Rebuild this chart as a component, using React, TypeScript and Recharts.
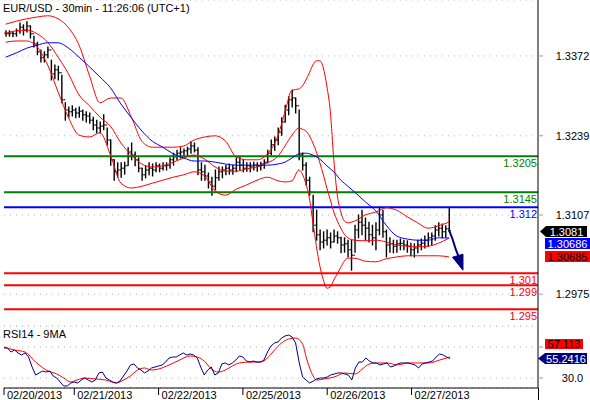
import React from 'react';
import { ComposedChart, Bar, Line, XAxis, YAxis, CartesianGrid, ReferenceLine } from 'recharts';

const FONT = '"Liberation Sans", Arial, sans-serif';
const SLOTS = 153;

const OPEN_FIRST = 1.3410;
const HIGH = [
  1.3414,1.3414,1.3412,1.3417,1.3427,1.3424,1.3429,1.3422,1.3405,1.3395,
  1.3382,1.3379,1.3387,1.3365,1.3357,1.3355,1.3340,1.3294,1.3287,1.3289,
  1.3285,1.3287,1.3282,1.3279,1.3277,1.3270,1.3265,1.3262,1.3274,1.3252,
  1.3232,1.3199,1.3194,1.3194,1.3195,1.3219,1.3227,1.3212,1.3202,1.3185,
  1.3189,1.3194,1.3192,1.3194,1.3192,1.3194,1.3194,1.3202,1.3210,1.3215,
  1.3219,1.3217,1.3220,1.3229,1.3227,1.3219,1.3194,1.3190,1.3177,1.3170,
  1.3182,1.3187,1.3187,1.3190,1.3192,1.3190,1.3202,1.3204,1.3199,1.3194,
  1.3194,1.3195,1.3194,1.3195,1.3199,1.3215,1.3232,1.3237,1.3252,1.3269,
  1.3290,1.3304,1.3315,1.3302,1.3282,1.3210,1.3194,1.3170,1.3140,1.3115,
  1.3082,1.3079,1.3082,1.3077,1.3082,1.3079,1.3070,1.3069,1.3065,1.3065,
  1.3090,1.3107,1.3115,1.3102,1.3095,1.3090,1.3094,1.3120,1.3115,1.3082,
  1.3069,1.3065,1.3065,1.3067,1.3065,1.3064,1.3060,1.3059,1.3065,1.3067,
  1.3072,1.3077,1.3077,1.3089,1.3094,1.3092,1.3089,1.3120,
];
const LOW = [
  1.3405,1.3405,1.3404,1.3405,1.3410,1.3407,1.3412,1.3402,1.3387,1.3374,
  1.3362,1.3362,1.3369,1.3332,1.3334,1.3332,1.3294,1.3265,1.3270,1.3272,
  1.3269,1.3270,1.3265,1.3262,1.3260,1.3249,1.3244,1.3244,1.3249,1.3224,
  1.3190,1.3165,1.3170,1.3170,1.3175,1.3190,1.3199,1.3189,1.3179,1.3165,
  1.3169,1.3174,1.3172,1.3179,1.3179,1.3182,1.3182,1.3185,1.3190,1.3199,
  1.3202,1.3204,1.3205,1.3210,1.3212,1.3174,1.3165,1.3165,1.3152,1.3140,
  1.3149,1.3165,1.3169,1.3174,1.3175,1.3175,1.3179,1.3182,1.3179,1.3180,
  1.3179,1.3182,1.3180,1.3182,1.3185,1.3194,1.3207,1.3215,1.3224,1.3240,
  1.3262,1.3274,1.3287,1.3277,1.3199,1.3182,1.3157,1.3140,1.3079,1.3065,
  1.3049,1.3052,1.3057,1.3052,1.3062,1.3060,1.3044,1.3045,1.3037,1.3015,
  1.3045,1.3069,1.3074,1.3065,1.3062,1.3057,1.3049,1.3074,1.3070,1.3037,
  1.3045,1.3044,1.3045,1.3049,1.3049,1.3045,1.3039,1.3037,1.3044,1.3049,
  1.3052,1.3055,1.3057,1.3065,1.3072,1.3069,1.3070,1.3080,
];
const CLOSE = [
  1.3409,1.3410,1.3409,1.3414,1.3420,1.3415,1.3422,1.3409,1.3392,1.3379,
  1.3369,1.3374,1.3382,1.3342,1.3349,1.3344,1.3299,1.3282,1.3279,1.3282,
  1.3277,1.3280,1.3274,1.3272,1.3265,1.3257,1.3252,1.3255,1.3257,1.3232,
  1.3199,1.3179,1.3182,1.3185,1.3189,1.3212,1.3207,1.3199,1.3185,1.3174,
  1.3182,1.3185,1.3182,1.3189,1.3185,1.3189,1.3190,1.3199,1.3204,1.3210,
  1.3212,1.3214,1.3217,1.3222,1.3215,1.3182,1.3179,1.3172,1.3162,1.3155,
  1.3169,1.3179,1.3182,1.3185,1.3182,1.3185,1.3195,1.3190,1.3185,1.3189,
  1.3187,1.3190,1.3189,1.3192,1.3195,1.3210,1.3224,1.3232,1.3245,1.3262,
  1.3282,1.3299,1.3302,1.3289,1.3207,1.3190,1.3165,1.3145,1.3090,1.3074,
  1.3062,1.3065,1.3069,1.3062,1.3072,1.3069,1.3057,1.3059,1.3049,1.3040,
  1.3082,1.3095,1.3090,1.3085,1.3074,1.3069,1.3082,1.3107,1.3079,1.3057,
  1.3059,1.3055,1.3059,1.3060,1.3057,1.3055,1.3049,1.3052,1.3057,1.3060,
  1.3065,1.3069,1.3072,1.3082,1.3085,1.3079,1.3084,1.3081,
];

const BAND_IDX = [
  0,3,6,9,12,15,18,21,24,27,30,33,36,39,42,45,48,51,54,57,
  60,63,66,69,72,75,78,80,82,84,85,86,87,88,89,90,91,92,93,94,
  95,96,97,98,100,103,106,109,112,115,118,121,124,127,
];
const BB_UPPER = [
  1.3425,1.3430,1.3434,1.3437,1.3439,1.3434,1.3419,1.3390,1.3339,1.3294,
  1.3302,1.3302,1.3270,1.3230,1.3220,1.3220,1.3220,1.3222,1.3232,1.3237,
  1.3239,1.3230,1.3204,1.3199,1.3199,1.3209,1.3239,1.3279,1.3315,1.3317,
  1.3322,1.3332,1.3344,1.3357,1.3364,1.3364,1.3352,1.3322,1.3279,1.3199,
  1.3140,1.3112,1.3097,1.3094,1.3097,1.3107,1.3112,1.3119,1.3115,1.3104,
  1.3094,1.3085,1.3089,1.3095,
];
const BB_MID = [
  1.3410,1.3414,1.3415,1.3409,1.3395,1.3370,1.3342,1.3307,1.3289,1.3270,
  1.3255,1.3227,1.3207,1.3192,1.3187,1.3189,1.3195,1.3202,1.3207,1.3200,
  1.3187,1.3180,1.3180,1.3184,1.3187,1.3194,1.3205,1.3222,1.3240,1.3252,
  1.3250,1.3247,1.3239,1.3227,1.3212,1.3194,1.3174,1.3152,1.3132,1.3112,
  1.3097,1.3085,1.3075,1.3069,1.3065,1.3064,1.3065,1.3062,1.3057,1.3055,
  1.3054,1.3055,1.3060,1.30685,
];
const BB_LOWER = [
  1.3395,1.3397,1.3397,1.3387,1.3357,1.3312,1.3269,1.3240,1.3237,1.3244,
  1.3207,1.3160,1.3152,1.3155,1.3160,1.3165,1.3170,1.3174,1.3179,1.3172,
  1.3147,1.3140,1.3150,1.3157,1.3165,1.3170,1.3164,1.3162,1.3164,1.3182,
  1.3175,1.3159,1.3135,1.3095,1.3055,1.3022,1.2999,1.2985,1.2987,1.2999,
  1.3009,1.3020,1.3030,1.3035,1.3035,1.3030,1.3029,1.3034,1.3037,1.3039,
  1.3039,1.3039,1.3039,1.3037,
];
const SMA_BLUE = [
  1.3370,1.3377,1.3385,1.3390,1.3394,1.3394,1.3385,1.3370,1.3354,1.3337,
  1.3319,1.3292,1.3269,1.3247,1.3230,1.3220,1.3209,1.3202,1.3197,1.3197,
  1.3195,1.3192,1.3190,1.3190,1.3190,1.3190,1.3192,1.3195,1.3202,1.3209,
  1.3210,1.3210,1.3209,1.3207,1.3204,1.3200,1.3195,1.3189,1.3184,1.3179,
  1.3172,1.3165,1.3160,1.3155,1.3145,1.3129,1.3114,1.3090,1.3072,1.3067,
  1.3065,1.3065,1.3069,1.30686,
];

const ARROW_IDX = [127, 128, 129, 130];
const ARROW_VAL = [1.3082, 1.3067, 1.3049, 1.3035];

const LEVEL_VALUES = [1.3205, 1.3145, 1.312, 1.301, 1.299, 1.295];
const LEVEL_TEXT = ['1.3205', '1.3145', '1.312', '1.301', '1.299', '1.295'];
const LEVEL_COLORS = ['#008000', '#008000', '#0000ff', '#ff0000', '#ff0000', '#ff0000'];

const PRICE_TICKS = [1.2975, 1.3107, 1.3239, 1.3372];
const PRICE_DOMAIN = [1.2922, 1.34653];

const RSI = [
  68.7,68.7,63.5,66.1,62.3,59.7,62.3,57.1,44.2,33.9,
  36.5,39.0,37.7,39.0,32.6,30.0,24.8,19.7,19.7,23.5,
  24.8,23.5,27.4,30.0,27.4,24.8,27.4,36.5,37.7,30.0,
  27.4,24.8,23.5,26.1,32.6,39.0,46.8,48.1,42.9,40.3,
  36.5,39.0,42.9,44.2,45.5,46.8,50.6,55.8,57.1,57.1,
  59.7,62.3,59.7,61.0,59.7,55.8,44.2,33.9,40.3,44.2,
  33.9,36.5,48.1,49.4,46.8,49.4,53.2,58.4,57.1,51.9,
  50.6,51.9,50.6,50.6,53.2,63.5,71.3,75.2,76.5,81.6,
  84.2,85.5,82.9,75.2,50.6,31.3,27.4,23.5,26.1,28.7,
  30.0,30.0,31.3,33.9,35.2,36.5,36.5,35.2,33.9,27.4,
  42.9,50.6,50.6,55.8,51.9,49.4,49.4,46.8,48.1,49.4,
  44.2,45.5,48.1,49.4,49.4,49.4,48.1,46.8,42.9,48.1,
  49.4,50.6,51.9,57.1,61.0,59.7,57.1,55.2416,
];
const RSI_MA_IDX = [
  0,3,6,9,10,12,15,17,19,20,23,26,29,32,34,36,38,40,42,44,
  47,50,53,55,57,59,61,63,65,67,70,73,75,77,79,81,83,85,86,87,
  88,89,91,94,97,100,102,104,106,109,112,115,118,121,124,127,
];
const RSI_MA = [
  70.0,66.1,63.5,50.6,46.8,40.3,35.2,30.0,24.8,26.1,30.0,28.7,27.4,23.5,27.4,32.6,40.3,42.9,40.3,41.6,
  46.8,53.2,58.4,57.1,51.9,41.6,37.7,40.3,45.5,49.4,50.6,50.6,55.8,66.1,75.2,80.3,81.6,73.9,57.1,42.9,
  32.6,27.4,28.7,31.3,36.5,35.2,41.6,48.1,49.4,49.4,46.8,49.4,49.4,49.4,53.2,57.113,
];
const RSI_TICKS = [30, 50, 70];
const RSI_DOMAIN = [17.1, 97.1];

const DATE_IDX = [0, 20, 44, 68, 92, 116];
const DATE_LABELS = ['02/20/2013', '02/21/2013', '02/22/2013', '02/25/2013', '02/26/2013', '02/27/2013'];

const TITLE = 'EUR/USD - 30min - 11:26:06 (UTC+1)';
const RSI_TITLE = 'RSI14 - 9MA';
const LAST_PRICE = '1.3081';
const LAST_SMA = '1.30686';
const LAST_MID = '1.30685';
const LAST_RSI_MA = '57.113';
const LAST_RSI = '55.2416';

const mainData: any[] = Array.from({ length: SLOTS }, (_, i) => {
  const row: any = { i };
  if (i < HIGH.length) {
    row.h = HIGH[i];
    row.l = LOW[i];
    row.c = CLOSE[i];
    row.o = i === 0 ? OPEN_FIRST : CLOSE[i - 1];
    row.range = [LOW[i], HIGH[i]];
  }
  return row;
});
BAND_IDX.forEach((k, j) => {
  mainData[k].u = BB_UPPER[j];
  mainData[k].m = BB_MID[j];
  mainData[k].lo = BB_LOWER[j];
  mainData[k].sma = SMA_BLUE[j];
});
ARROW_IDX.forEach((k, j) => {
  mainData[k].arrow = ARROW_VAL[j];
});

const rsiData: any[] = Array.from({ length: SLOTS }, (_, i) => {
  const row: any = { i };
  if (i < RSI.length) row.rsi = RSI[i];
  return row;
});
RSI_MA_IDX.forEach((k, j) => {
  rsiData[k].ma = RSI_MA[j];
});

const OhlcShape = (props: any) => {
  const { x, y, width, height, payload } = props;
  if (!payload || payload.h == null) return <g />;
  const cx = x + width / 2;
  const top = Math.min(y, y + height);
  const bot = Math.max(y, y + height);
  const span = payload.h - payload.l;
  const yOf = (v: number) => (span === 0 ? top : top + ((payload.h - v) / span) * (bot - top));
  const yo = yOf(payload.o);
  const yc = yOf(payload.c);
  return (
    <g stroke="#000" strokeWidth={1.4}>
      <line x1={cx} x2={cx} y1={top - 0.5} y2={bot + 0.5} />
      <line x1={cx - 1.7} x2={cx} y1={yo} y2={yo} strokeWidth={1} />
      <line x1={cx} x2={cx + 1.7} y1={yc} y2={yc} strokeWidth={1} />
    </g>
  );
};

const PriceTick = (props: any) => {
  const { x, y, payload } = props;
  return (
    <text x={x + 29.5} y={y} textAnchor="middle" dominantBaseline="central" fontSize={11} fill="#000" fontFamily={FONT}>
      {Number(payload.value).toFixed(4)}
    </text>
  );
};

const RsiTick = (props: any) => {
  const { x, y, payload } = props;
  if (payload.value !== 30) return <g />;
  return (
    <text x={x + 29.5} y={y} textAnchor="middle" dominantBaseline="central" fontSize={11} fill="#000" fontFamily={FONT}>
      {Number(payload.value).toFixed(1)}
    </text>
  );
};

const DateTick = (props: any) => {
  const { x, y, payload } = props;
  const k = DATE_IDX.indexOf(payload.value);
  if (k < 0) return <g />;
  return (
    <g>
      <line x1={x} x2={x} y1={y} y2={y + 7} stroke="#000" />
      <text x={x + 3} y={y + 6.5} dominantBaseline="central" fontSize={11} fill="#000" fontFamily={FONT}>
        {DATE_LABELS[k]}
      </text>
    </g>
  );
};

const levelLabel = (text: string, color: string) => (props: any) => {
  const vb = props.viewBox || {};
  return (
    <text
      x={(vb.x || 0) + (vb.width || 0) - 1}
      y={(vb.y || 0) + 7}
      textAnchor="end"
      dominantBaseline="central"
      fontSize={11}
      fill={color}
      fontFamily={FONT}
    >
      {text}
    </text>
  );
};

const ArrowHead = (props: any) => {
  const { cx, cy, index } = props;
  if (index !== ARROW_IDX[ARROW_IDX.length - 1] || cx == null) return <g key={`ah${index}`} />;
  return (
    <path
      key={`ah${index}`}
      d={`M${cx - 7},${cy - 1} L${cx + 3.5},${cy - 4} L${cx + 3.5},${cy + 12} Z`}
      fill="#000080"
      stroke="#000080"
    />
  );
};

export default function App() {
  return (
    <div style={{ position: 'absolute', left: 0, top: 0, width: 590, height: 400, background: '#fff', fontFamily: FONT }}>
      <div style={{ position: 'absolute', left: 0, top: 0 }}>
        <ComposedChart width={590} height={327} data={mainData} margin={{ top: 0, right: 0, bottom: 1, left: 4 }}>
          <CartesianGrid vertical={false} stroke="#b4b4b4" strokeDasharray="1 5" />
          <XAxis dataKey="i" type="category" height={0} tick={false} tickLine={false} axisLine={{ stroke: '#000' }} interval={0} />
          <YAxis
            orientation="right"
            width={52}
            domain={PRICE_DOMAIN}
            ticks={PRICE_TICKS}
            allowDataOverflow
            tick={<PriceTick />}
            tickSize={5}
            tickMargin={0}
            tickLine={{ stroke: '#999' }}
            axisLine={{ stroke: '#000' }}
          />
          {LEVEL_VALUES.map((v, k) => (
            <ReferenceLine
              key={`lv${k}`}
              y={v}
              stroke={LEVEL_COLORS[k]}
              strokeWidth={2}
              label={levelLabel(LEVEL_TEXT[k], LEVEL_COLORS[k])}
            />
          ))}
          <Line dataKey="u" stroke="#ff0000" strokeWidth={1} dot={false} connectNulls type="monotone" isAnimationActive={false} />
          <Line dataKey="m" stroke="#ff0000" strokeWidth={1} dot={false} connectNulls type="monotone" isAnimationActive={false} />
          <Line dataKey="lo" stroke="#ff0000" strokeWidth={1} dot={false} connectNulls type="monotone" isAnimationActive={false} />
          <Line dataKey="sma" stroke="#0000ff" strokeWidth={1} dot={false} connectNulls type="monotone" isAnimationActive={false} />
          <Bar dataKey="range" barSize={2} shape={<OhlcShape />} isAnimationActive={false} />
          <Line dataKey="arrow" stroke="#000080" strokeWidth={2} dot={ArrowHead} connectNulls type="monotone" isAnimationActive={false} />
        </ComposedChart>
      </div>
      <div style={{ position: 'absolute', left: 0, top: 326 }}>
        <ComposedChart width={590} height={74} data={rsiData} margin={{ top: 0, right: 0, bottom: 0, left: 4 }}>
          <CartesianGrid vertical={false} stroke="#b4b4b4" strokeDasharray="1 5" />
          <XAxis
            dataKey="i"
            type="category"
            height={12}
            ticks={DATE_IDX}
            interval={0}
            tick={<DateTick />}
            tickLine={false}
            tickSize={0}
            tickMargin={0}
            axisLine={{ stroke: '#000' }}
          />
          <YAxis
            orientation="right"
            width={52}
            domain={RSI_DOMAIN}
            ticks={RSI_TICKS}
            allowDataOverflow
            tick={<RsiTick />}
            tickSize={5}
            tickMargin={0}
            tickLine={{ stroke: '#999' }}
            axisLine={{ stroke: '#000' }}
          />
          <Line dataKey="ma" stroke="#ff0000" strokeWidth={1} dot={false} connectNulls type="monotone" isAnimationActive={false} />
          <Line dataKey="rsi" stroke="#000080" strokeWidth={1} dot={false} connectNulls type="linear" isAnimationActive={false} />
        </ComposedChart>
      </div>
      <svg width={590} height={400} style={{ position: 'absolute', left: 0, top: 0, pointerEvents: 'none' }} fontFamily={FONT}>
        <text x={3} y={8} dominantBaseline="central" fontSize={11} fill="#000">{TITLE}</text>
        <text x={3} y={334} dominantBaseline="central" fontSize={11} fill="#000">{RSI_TITLE}</text>
        <line x1={538.5} x2={538.5} y1={388} y2={400} stroke="#000" />
        <polygon points="540,231.5 546,226 587,226 587,237 546,237" fill="#000" />
        <text x={566.5} y={231.5} textAnchor="middle" dominantBaseline="central" fontSize={11} fill="#fff">{LAST_PRICE}</text>
        <rect x={545} y={238} width={45} height={11} fill="#0000ff" />
        <text x={567.5} y={243.5} textAnchor="middle" dominantBaseline="central" fontSize={11} fill="#fff">{LAST_SMA}</text>
        <rect x={545} y={251} width={45} height={11} fill="#ff0000" />
        <text x={567.5} y={256.5} textAnchor="middle" dominantBaseline="central" fontSize={11} fill="#000">{LAST_MID}</text>
        <rect x={545} y={339} width={38} height={10} fill="#ff0000" />
        <text x={564} y={344} textAnchor="middle" dominantBaseline="central" fontSize={11} fill="#000">{LAST_RSI_MA}</text>
        <polygon points="538,358.5 545,353 587,353 587,364 545,364" fill="#000080" />
        <text x={566} y={358.5} textAnchor="middle" dominantBaseline="central" fontSize={11} fill="#fff">{LAST_RSI}</text>
      </svg>
    </div>
  );
}
